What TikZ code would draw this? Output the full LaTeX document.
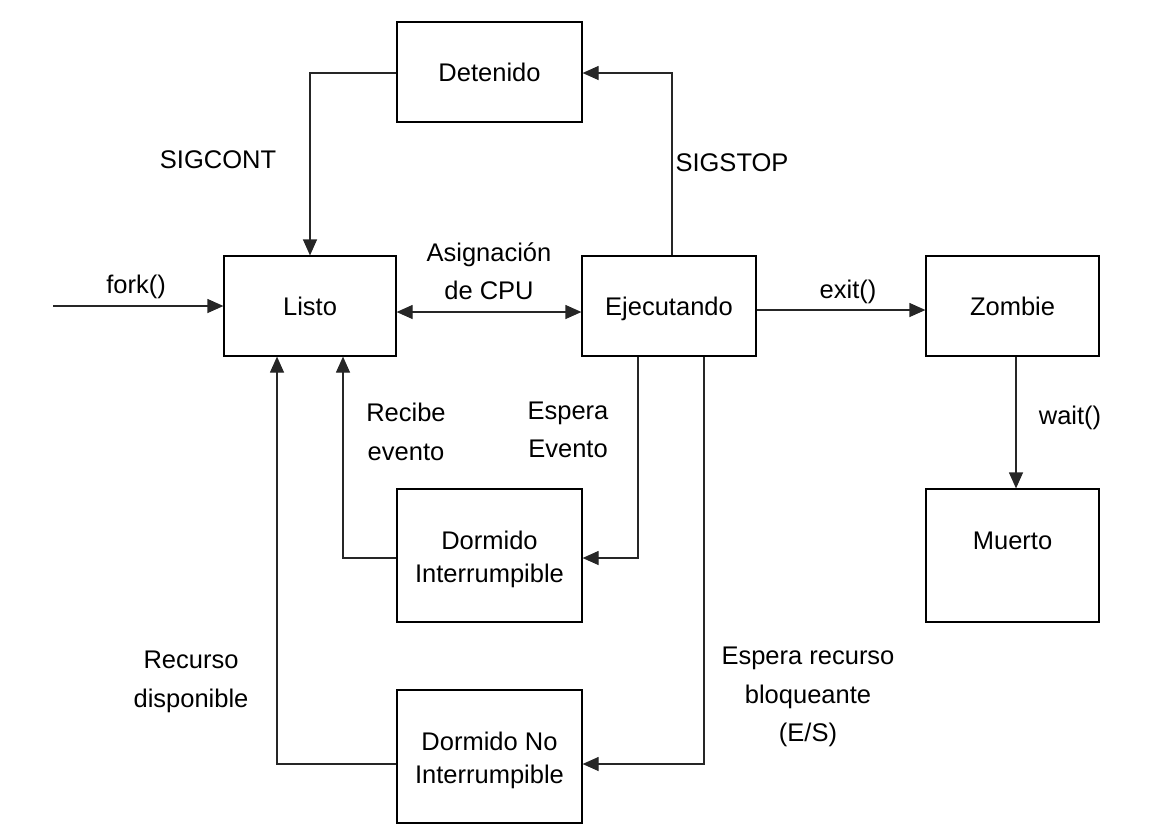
\documentclass[tikz,border=0pt]{standalone}
\usepackage{fontspec}
\setmainfont{Liberation Sans}
\usetikzlibrary{arrows.meta}
\begin{document}
\begin{tikzpicture}[x=1pt,y=-1pt,
  state/.style={draw=black,line width=1.2pt,fill=white,align=center,inner sep=0pt},
  lbl/.style={align=center,inner sep=0pt},
  conn/.style={draw=black!85,line width=1.2pt,-{Triangle[length=16pt,width=14pt]}},
  every node/.style={font=\fontsize{25.5}{38.5}\selectfont}]
\useasboundingbox (0,0) rectangle (1174,831);
\node[state,minimum width=185pt,minimum height=100pt] (det) at (489.5,72) {Detenido};
\node[state,minimum width=172pt,minimum height=100pt] (listo) at (310,306) {Listo};
\node[state,minimum width=174pt,minimum height=100pt] (ejec) at (669,306) {\raisebox{-3pt}[\height][\depth]{Ejecutando}};
\node[state,minimum width=173pt,minimum height=100pt] (zomb) at (1012.5,306) {Zombie};
\node[state,minimum width=173pt,minimum height=133pt] (muerto) at (1012.5,555.5) {\raisebox{15pt}[\height][\depth]{Muerto}};
\node[state,minimum width=185pt,minimum height=133pt,font=\fontsize{25.5}{33.5}\selectfont] (di) at (489.5,555.5) {\raisebox{-4pt}[\height][\depth]{Dormido}\\\raisebox{-4pt}[\height][\depth]{Interrumpible}};
\node[state,minimum width=185pt,minimum height=133pt,font=\fontsize{25.5}{33.5}\selectfont] (dni) at (489.5,756.5) {\raisebox{-4pt}[\height][\depth]{Dormido No}\\\raisebox{-4pt}[\height][\depth]{Interrumpible}};
\coordinate (forkstart) at (53,306);
% connectors
\draw[conn] (det.west |- 0,73) -| (listo.north -| 310,0);
\draw[conn] (ejec.north -| 672,0) |- (det.east |- 0,73);
\draw[conn] (forkstart) -- (listo.west);
\draw[conn,{Triangle[length=16pt,width=14pt]}-{Triangle[length=16pt,width=14pt]}] (listo.east |- 0,312) -- (ejec.west |- 0,312);
\draw[conn] (ejec.east |- 0,310) -- (zomb.west |- 0,310);
\draw[conn] (zomb.south -| 1016,0) -- (muerto.north -| 1016,0);
\draw[conn] (ejec.south -| 638,0) |- (di.east |- 0,558);
\draw[conn] (di.west |- 0,558) -| (listo.south -| 343,0);
\draw[conn] (ejec.south -| 704,0) |- (dni.east |- 0,764);
\draw[conn] (dni.west |- 0,764) -| (listo.south -| 277,0);
% labels
\node[lbl] (l1) at (218,160) {SIGCONT};
\node[lbl] (l2) at (732,163) {SIGSTOP};
\node[lbl] (l3) at (489,271) {Asignación\\de CPU};
\node[lbl] (l4) at (136,287) {fork()};
\node[lbl] (l5) at (848,292) {exit()};
\node[lbl] (l6) at (1070,418) {wait()};
\node[lbl] (l7) at (406,432) {Recibe\\evento};
\node[lbl] (l8) at (568,430) {Espera\\Evento};
\node[lbl] (l9) at (191,682) {Recurso\\disponible};
\node[lbl] (l10) at (808,697) {Espera recurso\\bloqueante\\(E/S)};
\end{tikzpicture}
\end{document}
